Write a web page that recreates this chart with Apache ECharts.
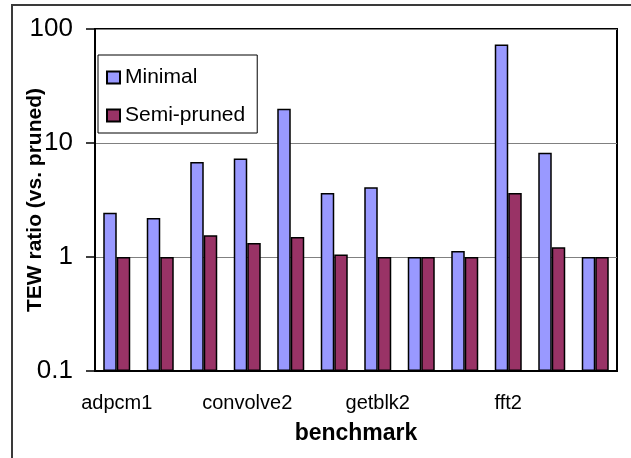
<!DOCTYPE html>
<html>
<head>
<meta charset="utf-8">
<script src="https://cdn.jsdelivr.net/npm/echarts@6/dist/echarts.min.js"></script>
<style>html,body{margin:0;padding:0;background:#fff}#c{width:631px;height:458px}</style>
</head>
<body>
<div id="c"></div>
<script>
const categories = ['adpcm1','adpcm2','convolve1','convolve2','convolve3','getblk1','getblk2','getblk3','fft1','fft2','fft3','fft4'];
const minimalValues = [2.45, 2.2, 6.8, 7.3, 20, 3.65, 4.1, 1.0, 1.13, 73, 8.2, 1.0];
const semiPrunedValues = [1.0, 1.0, 1.55, 1.33, 1.5, 1.05, 1.0, 1.0, 1.0, 3.65, 1.22, 1.0];
const yTickLabels = ['0.1', '1', '10', '100'];
const seriesNames = ['Minimal', 'Semi-pruned'];

// Logarithmic axis whose bars start at the axis minimum (0.1):
// values are mapped to decades above 0.1 on a linear axis.
const yMin = parseFloat(yTickLabels[0]);
const toDecades = v => Math.log10(v / yMin);

const FONT = "'Liberation Sans', Arial, sans-serif";
const chart = echarts.init(document.getElementById('c'), null, {renderer: 'canvas'});
chart.setOption({
  animation: false,
  backgroundColor: '#ffffff',
  graphic: [{
    type: 'rect',
    shape: {x: 12, y: 5, width: 700, height: 500},
    style: {fill: 'none', stroke: '#3a3a3a', lineWidth: 2},
    silent: true, z: 0
  }],
  grid: {left: 95, right: 14, top: 29, bottom: 87, containLabel: false, outerBoundsMode: 'none',
         show: true, borderColor: '#000', borderWidth: 2, backgroundColor: 'transparent'},
  legend: {
    orient: 'vertical', left: 98, top: 55,
    padding: [12, 12, 7, 8], itemGap: 17, itemWidth: 13, itemHeight: 12,
    borderColor: '#000', borderWidth: 1, backgroundColor: '#fff',
    icon: 'rect',
    textStyle: {fontFamily: FONT, fontSize: 21, color: '#000'},
    data: seriesNames
  },
  xAxis: {
    type: 'category', data: categories,
    name: 'benchmark', nameLocation: 'middle', nameGap: 51, nameMoveOverlap: false,
    nameTextStyle: {fontFamily: FONT, fontSize: 23, fontWeight: 'bold', color: '#000'},
    axisLine: {lineStyle: {color: '#000', width: 2}},
    axisTick: {interval: 0, length: 6, lineStyle: {color: '#000', width: 1.5}},
    axisLabel: {interval: 2, margin: 22, fontFamily: FONT, fontSize: 20, color: '#000'}
  },
  yAxis: {
    type: 'value', min: 0, max: yTickLabels.length - 1, interval: 1,
    name: 'TEW ratio (vs. pruned)', nameLocation: 'middle', nameGap: 49, nameRotate: 90, nameMoveOverlap: false,
    nameTextStyle: {fontFamily: FONT, fontSize: 21, fontWeight: 'bold', color: '#000'},
    axisLine: {show: true, lineStyle: {color: '#000', width: 2}},
    axisTick: {show: true, inside: false, length: 9, lineStyle: {color: '#000', width: 1.5}},
    splitLine: {show: true, lineStyle: {color: '#808080', width: 1}},
    axisLabel: {
      margin: 22, fontFamily: FONT, fontSize: 26, color: '#000',
      formatter: v => yTickLabels[Math.round(v)]
    }
  },
  series: [
    {name: seriesNames[0], type: 'bar', data: minimalValues.map(toDecades), barWidth: 13.5, barGap: '0%',
     itemStyle: {color: '#9999FF', borderColor: '#000', borderWidth: 1.5}},
    {name: seriesNames[1], type: 'bar', data: semiPrunedValues.map(toDecades), barWidth: 13.5, barGap: '0%',
     itemStyle: {color: '#993366', borderColor: '#000', borderWidth: 1.5}}
  ]
});
</script>
</body>
</html>
